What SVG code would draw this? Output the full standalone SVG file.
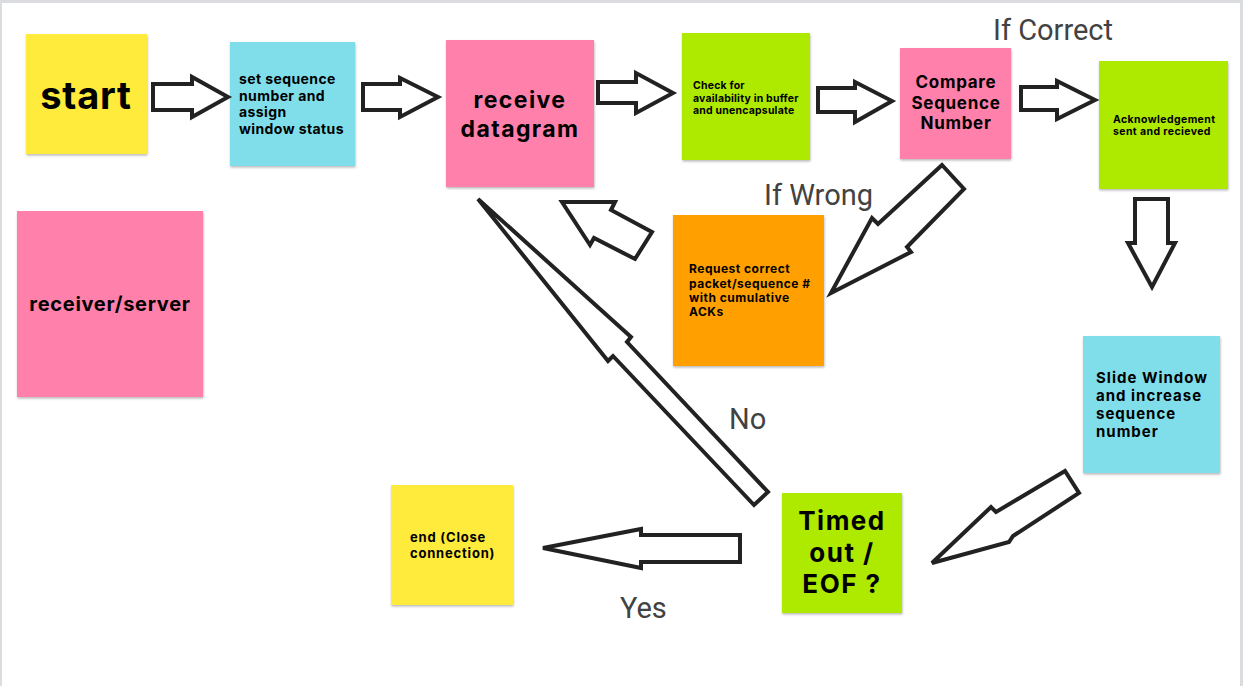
<svg xmlns="http://www.w3.org/2000/svg" width="1243" height="686" viewBox="0 0 1243 686">
<defs>
<filter id="sh" x="-10%" y="-10%" width="125%" height="125%">
<feDropShadow dx="0.5" dy="1.5" stdDeviation="1.2" flood-color="#000" flood-opacity="0.28"/>
</filter>
<style>
.note{filter:url(#sh);}
.yel{fill:#ffeb3b}.cyan{fill:#80deea}.pink{fill:#ff80ab}.green{fill:#aeea00}.orange{fill:#ffa000}
.t{font-family:Inter,"Liberation Sans",sans-serif;font-weight:700;fill:#000}
.lbl{font-family:Roboto,"Liberation Sans",sans-serif;font-size:29px;fill:#424242}
.arr{fill:#fff;stroke:#222;stroke-width:4;stroke-linejoin:miter}
</style>
</defs>
<rect width="1243" height="686" fill="#fff"/>
<rect x="0" y="0" width="1243" height="3" fill="#dadce0"/>
<rect x="0" y="0" width="2" height="686" fill="#dadce0"/>
<rect x="1240" y="0" width="3" height="686" fill="#dadce0"/>

<g id="node-start"><rect class="note yel" x="26" y="34" width="121" height="120"/>
<text class="t" x="86" y="109" font-size="38" letter-spacing="0.8" text-anchor="middle">start</text></g>

<g id="node-setseq"><rect class="note cyan" x="230" y="42" width="125" height="124"/>
<text class="t" font-size="14" letter-spacing="0.4"><tspan x="239" y="84">set sequence</tspan><tspan x="239" y="100.5">number and</tspan><tspan x="239" y="117">assign</tspan><tspan x="239" y="133.5">window status</tspan></text></g>

<g id="node-receive"><rect class="note pink" x="446" y="40" width="148" height="147"/>
<text class="t" font-size="23" letter-spacing="1.4" text-anchor="middle"><tspan x="520" y="108">receive</tspan><tspan x="520" y="137">datagram</tspan></text></g>

<g id="node-check"><rect class="note green" x="682" y="33" width="128" height="127"/>
<text class="t" font-size="10.5" letter-spacing="0.2"><tspan x="693" y="89">Check for</tspan><tspan x="693" y="101.5">availability in buffer</tspan><tspan x="693" y="114">and unencapsulate</tspan></text></g>

<g id="node-compare"><rect class="note pink" x="900" y="48" width="111" height="111"/>
<text class="t" font-size="17" letter-spacing="0.7" text-anchor="middle"><tspan x="956" y="88">Compare</tspan><tspan x="956" y="109">Sequence</tspan><tspan x="956" y="129">Number</tspan></text></g>

<g id="node-ack"><rect class="note green" x="1099" y="61" width="129" height="128"/>
<text class="t" font-size="10.5" letter-spacing="0.4"><tspan x="1113" y="123">Acknowledgement</tspan><tspan x="1113" y="134.5">sent and recieved</tspan></text></g>

<g id="node-role"><rect class="note pink" x="17" y="211" width="186" height="186"/>
<text class="t" x="110" y="311" font-size="20" letter-spacing="0.7" text-anchor="middle">receiver/server</text></g>

<g id="node-request"><rect class="note orange" x="673" y="215" width="151" height="151"/>
<text class="t" font-size="12" letter-spacing="0.5"><tspan x="689" y="273">Request correct</tspan><tspan x="689" y="287.5">packet/sequence #</tspan><tspan x="689" y="302">with cumulative</tspan><tspan x="689" y="316">ACKs</tspan></text></g>

<g id="node-slide"><rect class="note cyan" x="1083" y="336" width="137" height="137"/>
<text class="t" font-size="15" letter-spacing="1"><tspan x="1096" y="383">Slide Window</tspan><tspan x="1096" y="401">and increase</tspan><tspan x="1096" y="418.5">sequence</tspan><tspan x="1096" y="437">number</tspan></text></g>

<g id="node-timed"><rect class="note green" x="782" y="493" width="120" height="120"/>
<text class="t" font-size="26" letter-spacing="1.5" text-anchor="middle"><tspan x="842" y="530">Timed</tspan><tspan x="842" y="562">out /</tspan><tspan x="842" y="593">EOF ?</tspan></text></g>

<g id="node-end"><rect class="note yel" x="391" y="485" width="122" height="120"/>
<text class="t" font-size="13" letter-spacing="0.8"><tspan x="410" y="542">end (Close</tspan><tspan x="410" y="558">connection)</tspan></text></g>

<g id="connectors">
<polygon class="arr" points="153,84 192,84 192,77 228,97 192,117 192,110 153,110"/>
<polygon class="arr" points="363,84 400,84 400,78 438,97 400,117 400,110 363,110"/>
<polygon class="arr" points="598,82 636,82 636,73 673,93 636,113 636,103 598,103"/>
<polygon class="arr" points="818,88 855,88 855,82 892,101 855,122 855,112 818,112"/>
<polygon class="arr" points="1021,87 1057,87 1057,81 1095,100 1057,119 1057,110 1021,110"/>
<polygon class="arr" points="1135,199 1168,199 1168,243 1175,243 1152,287 1128,243 1135,243"/>
<polygon class="arr" points="1065,471 996,512 991,507 932,563 1009,542 1013,536 1079,493"/>
<polygon class="arr" points="942,165 878,224 872,218 831,293 911,252 907,247 964,189"/>
<polygon class="arr" points="562,202 615,202 611,210 652,232 635,259 594,238 590,245"/>
<polygon class="arr" points="478,199 631,337 627,342 768,492 754,505 613,356 608,361"/>
<polygon class="arr" points="740,535 641,535 641,529 543,548 641,568 641,562 740,562"/>
<text class="lbl" x="993" y="40">If Correct</text>
<text class="lbl" x="764" y="205">If Wrong</text>
<text class="lbl" x="729" y="429">No</text>
<text class="lbl" x="620" y="618">Yes</text>
</g>
</svg>
